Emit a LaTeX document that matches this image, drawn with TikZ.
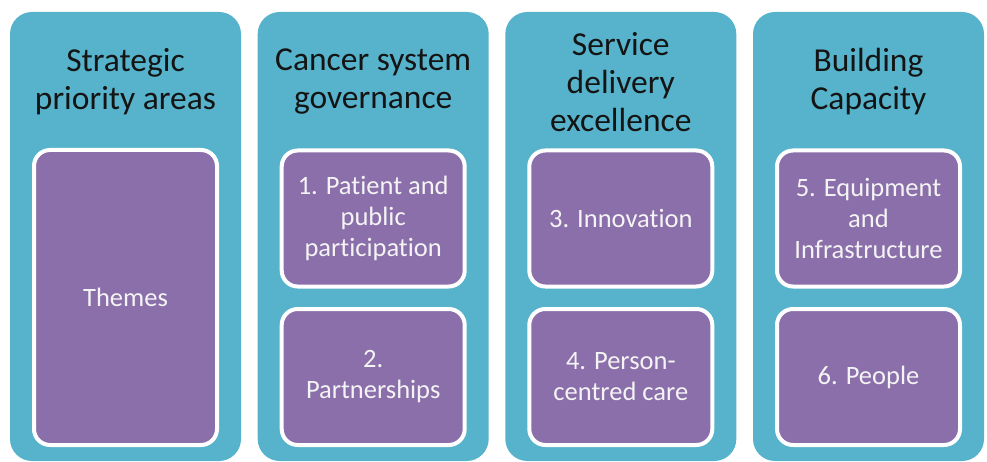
\documentclass[tikz,border=0pt]{standalone}
\usepackage{fontspec}
\setmainfont{Carlito}[Ligatures=NoCommon]
\definecolor{colteal}{HTML}{56B3CB}
\definecolor{cardpurple}{HTML}{8B6FAA}
\definecolor{titleink}{HTML}{141414}
\definecolor{cardink}{HTML}{F4F4F4}
\begin{document}
\begin{tikzpicture}[x=1pt,y=-1pt,
  column/.style={fill=colteal, rounded corners=22pt, inner sep=0pt,
    minimum width=231pt, minimum height=449pt},
  card/.style={draw=white, line width=4pt, fill=cardpurple, rounded corners=16pt,
    inner sep=0pt, minimum width=183pt, align=center, text=cardink,
    font=\fontsize{26.5}{31}\selectfont},
  tallcard/.style={card, minimum height=295pt},
  halfcard/.style={card, minimum height=136pt},
  heading/.style={align=center, text=titleink, inner sep=0pt,
    font=\fontsize{33.5}{38}\selectfont}]
\useasboundingbox (0,0) rectangle (987,462);

% four columns
\node[column] (c1) at (125.5,236.5) {};
\node[column] (c2) at (373.2,236.5) {};
\node[column] (c3) at (620.8,236.5) {};
\node[column] (c4) at (868.5,236.5) {};

% column headings
\node[heading] (h1) at (125.5,82) {Strategic\\priority areas};
\node[heading] (h2) at (373.2,82) {Cancer system\\governance};
\node[heading] (h3) at (620.8,82) {Service\\delivery\\excellence};
\node[heading] (h4) at (868.5,82) {Building\\Capacity};

% theme cards
\node[tallcard] (t0) at (125.5,297.5) {Themes};
\node[halfcard] (t1) at (373.2,218.5) {1. Patient and\\public\\participation};
\node[halfcard] (t2) at (373.2,377) {2.\\Partnerships};
\node[halfcard] (t3) at (620.8,218.5) {3. Innovation};
\node[halfcard] (t4) at (620.8,377) {4. Person-\\centred care};
\node[halfcard] (t5) at (868.5,218.5) {5. Equipment\\and\\Infrastructure};
\node[halfcard] (t6) at (868.5,377) {6. People};
\end{tikzpicture}
\end{document}
